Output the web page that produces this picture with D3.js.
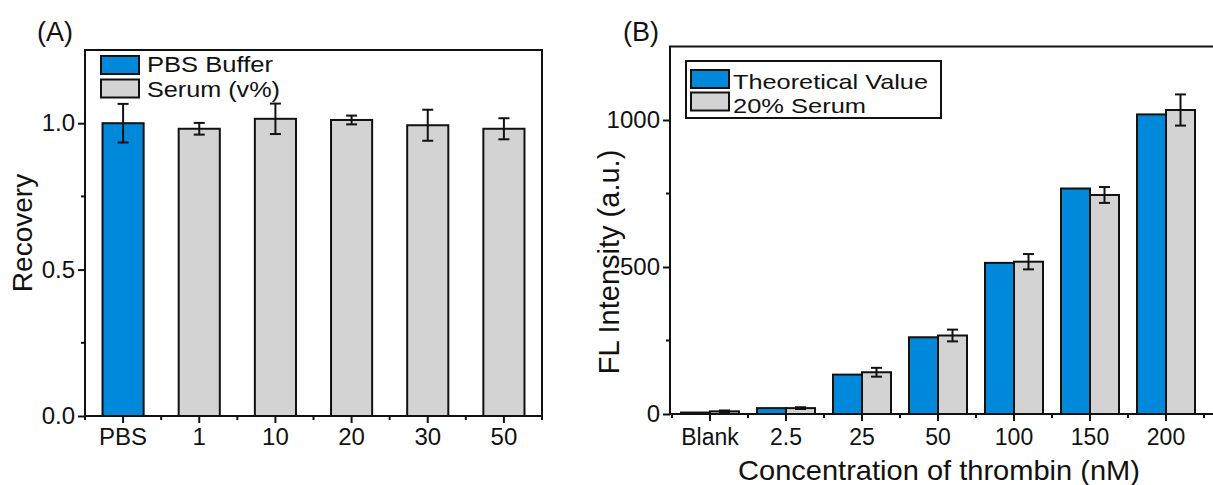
<!DOCTYPE html>
<html>
<head>
<meta charset="utf-8">
<script src="https://cdn.jsdelivr.net/npm/d3@7"></script>
<style>
  html, body { margin: 0; padding: 0; background: #fff; }
  svg { display: block; font-family: "Liberation Sans", Arial, sans-serif; }
</style>
</head>
<body>
<svg id="chart" width="1213" height="485"></svg>
<script>
// ---- data (A) recovery in PBS / serum ----
var catsA   = ['PBS', '1', '10', '20', '30', '50'];
var recA    = [1.000, 0.981, 1.015, 1.011, 0.993, 0.981];
var recErrA = [0.066, 0.020, 0.052, 0.015, 0.053, 0.036];

// ---- data (B) thrombin spike-in ----
var catsB      = ['Blank', '2.5', '25', '50', '100', '150', '200'];
var theoryB    = [5, 20, 134, 261, 514, 767, 1019];
var serumB     = [9, 20, 142, 267, 518, 745, 1034];
var serumErrB  = [3, 3, 15, 20, 26, 27, 53];

var ticksA = [0, 0.5, 1.0];
var ticksB = [0, 500, 1000];

var BLUE = '#0088da', GRAY = '#d3d3d3', INK = '#111';
var FONT = '"Liberation Sans", Arial, sans-serif';

var svg = d3.select('#chart');

function errBar(g, cx, yTop, yBot) {
    g.append('line').attr('x1', cx).attr('x2', cx).attr('y1', yTop).attr('y2', yBot)
        .attr('stroke', INK).attr('stroke-width', 2);
    [yTop, yBot].forEach(function (y) {
        g.append('line').attr('x1', cx - 5.5).attr('x2', cx + 5.5).attr('y1', y).attr('y2', y)
            .attr('stroke', INK).attr('stroke-width', 2);
    });
}

function styleAxis(ax, size) {
    ax.select('.domain').remove();
    ax.selectAll('line').attr('stroke', INK).attr('stroke-width', 2);
    ax.selectAll('text').attr('font-size', size).attr('fill', INK).attr('font-family', FONT);
}

// legend rows: swatch + text stretched to the original's (wide) glyph width
function legendRows(g, rows, o) {
    rows.forEach(function (d, i) {
        g.append('rect').attr('x', o.x).attr('y', o.y + i * o.step).attr('width', 38).attr('height', 18)
            .attr('fill', d.fill).attr('stroke', INK).attr('stroke-width', 2);
        g.append('text').attr('x', o.tx).attr('y', o.ty + i * o.tstep)
            .attr('font-size', o.size).attr('fill', INK)
            .attr('textLength', d.w).attr('lengthAdjust', 'spacingAndGlyphs')
            .text(d.label);
    });
}

// ---------- Panel A ----------
var A = { l: 85, r: 542, t: 50, b: 416 };
var xA = d3.scaleBand().domain(catsA).range([A.l, A.r]);
var yA = d3.scaleLinear().domain([0, 1.25]).range([A.b, A.t]);
var gA = svg.append('g');

var barWA = xA.bandwidth() * 0.54;
gA.selectAll('rect.bar').data(catsA).enter().append('rect')
    .attr('class', 'bar')
    .attr('x', function (d) { return xA(d) + (xA.bandwidth() - barWA) / 2; })
    .attr('y', function (d, i) { return yA(recA[i]); })
    .attr('width', barWA)
    .attr('height', function (d, i) { return yA(0) - yA(recA[i]); })
    .attr('fill', function (d, i) { return i === 0 ? BLUE : GRAY; })
    .attr('stroke', INK).attr('stroke-width', 2);

catsA.forEach(function (c, i) {
    var cx = xA(c) + xA.bandwidth() / 2;
    errBar(gA, cx, yA(recA[i] + recErrA[i]), yA(recA[i] - recErrA[i]));
});

// frame
gA.append('rect').attr('x', A.l).attr('y', A.t).attr('width', A.r - A.l).attr('height', A.b - A.t)
    .attr('fill', 'none').attr('stroke', INK).attr('stroke-width', 2);

// y axis
var axA = gA.append('g').attr('transform', 'translate(' + A.l + ',0)')
    .call(d3.axisLeft(yA).tickValues(ticksA).tickFormat(d3.format('.1f')).tickSize(7).tickSizeOuter(0).tickPadding(3));
gA.selectAll('.minA').data([0.25, 0.75]).enter().append('line')
    .attr('x1', A.l - 4).attr('x2', A.l).attr('y1', function (d) { return yA(d); }).attr('y2', function (d) { return yA(d); })
    .attr('stroke', INK).attr('stroke-width', 2);

// x axis
var axAx = gA.append('g').attr('transform', 'translate(0,' + A.b + ')')
    .call(d3.axisBottom(xA).tickSize(7).tickSizeOuter(0).tickPadding(5));
var boundsA = d3.range(catsA.length + 1).map(function (i) { return A.l + i * xA.step(); });
gA.selectAll('.minAx').data(boundsA).enter().append('line')
    .attr('x1', function (d) { return d; }).attr('x2', function (d) { return d; })
    .attr('y1', A.b).attr('y2', A.b + 4)
    .attr('stroke', INK).attr('stroke-width', 2);

styleAxis(axA, 24);
styleAxis(axAx, 24);

gA.append('text').attr('transform', 'translate(32,' + (A.t + A.b) / 2 + ') rotate(-90)')
    .attr('text-anchor', 'middle').attr('font-size', 28).attr('fill', INK).text('Recovery');
gA.append('text').attr('x', 37).attr('y', 41).attr('font-size', 27).attr('fill', INK).text('(A)');

legendRows(gA, [
    { label: 'PBS Buffer', fill: BLUE, w: 126 },
    { label: 'Serum (v%)', fill: GRAY, w: 133 }
], { x: 101, y: 56, step: 23.5, tx: 147, ty: 72, tstep: 25, size: 22 });

// ---------- Panel B ----------
var B = { l: 670, r: 1216, t: 46.5, b: 414 };
var xB = d3.scaleBand().domain(catsB).range([672, 1204]);
var xInner = d3.scaleBand().domain(['theory', 'serum']).range([0, 58]);
var yB = d3.scaleLinear().domain([0, 1250]).range([B.b, B.t]);
var gB = svg.append('g');

var groups = [{ key: 'theory', vals: theoryB, fill: BLUE }, { key: 'serum', vals: serumB, fill: GRAY }];
groups.forEach(function (s) {
    gB.selectAll('rect.' + s.key).data(catsB).enter().append('rect')
        .attr('class', s.key)
        .attr('x', function (d) { return xB(d) + (xB.bandwidth() - 58) / 2 + xInner(s.key); })
        .attr('y', function (d, i) { return yB(s.vals[i]); })
        .attr('width', xInner.bandwidth())
        .attr('height', function (d, i) { return yB(0) - yB(s.vals[i]); })
        .attr('fill', s.fill).attr('stroke', INK).attr('stroke-width', 2);
});
catsB.forEach(function (c, i) {
    var cx = xB(c) + (xB.bandwidth() - 58) / 2 + xInner('serum') + xInner.bandwidth() / 2;
    errBar(gB, cx, yB(serumB[i] + serumErrB[i]), yB(serumB[i] - serumErrB[i]));
});

// frame: left, top, bottom (right edge falls outside the picture)
gB.append('path').attr('d', 'M' + B.r + ',' + B.t + 'H' + B.l + 'V' + B.b + 'H' + B.r)
    .attr('fill', 'none').attr('stroke', INK).attr('stroke-width', 2);

var axB = gB.append('g').attr('transform', 'translate(' + B.l + ',0)')
    .call(d3.axisLeft(yB).tickValues(ticksB).tickFormat(d3.format('d')).tickSize(7).tickSizeOuter(0).tickPadding(3));
gB.selectAll('.minB').data([250, 750]).enter().append('line')
    .attr('x1', B.l - 4).attr('x2', B.l).attr('y1', function (d) { return yB(d); }).attr('y2', function (d) { return yB(d); })
    .attr('stroke', INK).attr('stroke-width', 2);

var axBx = gB.append('g').attr('transform', 'translate(0,' + B.b + ')')
    .call(d3.axisBottom(xB).tickSize(7).tickSizeOuter(0).tickPadding(8));
var boundsB = d3.range(catsB.length + 1).map(function (i) { return 672 + i * xB.step(); });
gB.selectAll('.minBx').data(boundsB).enter().append('line')
    .attr('x1', function (d) { return d; }).attr('x2', function (d) { return d; })
    .attr('y1', B.b).attr('y2', B.b + 4)
    .attr('stroke', INK).attr('stroke-width', 2);

styleAxis(axB, 24);
styleAxis(axBx, 23);

gB.append('text').attr('transform', 'translate(619,262) rotate(-90)')
    .attr('text-anchor', 'middle').attr('font-size', 29).attr('fill', INK).text('FL Intensity (a.u.)');
gB.append('text').attr('x', 939).attr('y', 480).attr('text-anchor', 'middle')
    .attr('font-size', 28).attr('fill', INK)
    .attr('textLength', 402).attr('lengthAdjust', 'spacingAndGlyphs')
    .text('Concentration of thrombin (nM)');
gB.append('text').attr('x', 623).attr('y', 41).attr('font-size', 27).attr('fill', INK).text('(B)');

// legend B
gB.append('rect').attr('x', 686).attr('y', 61).attr('width', 255).attr('height', 57)
    .attr('fill', '#fff').attr('stroke', INK).attr('stroke-width', 2);
legendRows(gB, [
    { label: 'Theoretical Value', fill: BLUE, w: 195 },
    { label: '20% Serum', fill: GRAY, w: 133 }
], { x: 691, y: 70, step: 22.5, tx: 733, ty: 89, tstep: 24, size: 21 });
</script>
</body>
</html>
